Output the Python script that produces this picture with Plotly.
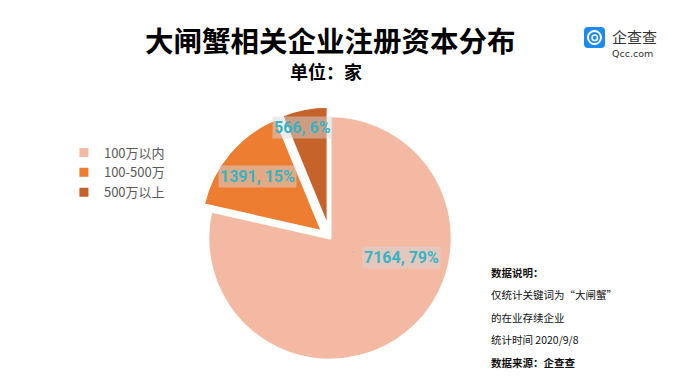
import math
import plotly.graph_objects as go

# ---- data ----
categories = ["100万以内", "100-500万", "500万以上"]
counts = [7164, 1391, 566]
title_text = "大闸蟹相关企业注册资本分布"
subtitle_text = "单位：家"
notes = ["数据说明：", "仅统计关键词为“大闸蟹”", "的在业存续企业", "统计时间 2020/9/8", "数据来源：企查查"]

# ---- style ----
W, H = 680, 391
colors = ["#F3B9A3", "#ED7D31", "#C5632A"]
pulls = [0, 0.08, 0.08]
dom_x = [0.2912, 0.6794]
dom_y = [0.0537, 0.7289]
label_r = [0.61, 0.70, 0.85]
label_ang_shift = [-36, 0, -3]
label_color = "#35B4C6"
CJK = "Noto Sans CJK SC, sans-serif"
NARROW = "Roboto, DejaVu Sans, sans-serif"


def px2x(v):
    return v / W


def px2y(v):
    return 1 - v / H


fig = go.Figure(go.Pie(
    labels=categories, values=counts, sort=False, direction="clockwise",
    rotation=0, pull=pulls,
    marker=dict(colors=colors, line=dict(color="white", width=3)),
    textinfo="none", hoverinfo="label+value+percent",
    domain=dict(x=dom_x, y=dom_y),
))

# geometry of the pie as plotly lays it out
wpx = (dom_x[1] - dom_x[0]) * W
hpx = (dom_y[1] - dom_y[0]) * H
r = min(wpx, hpx) / (2 + 2 * max(pulls))
cx = (dom_x[0] + dom_x[1]) / 2 * W
cy = (1 - (dom_y[0] + dom_y[1]) / 2) * H  # pixels from top

total = sum(counts)
cum = 0
annotations = []
for i, v in enumerate(counts):
    frac = v / total
    mid = (cum + frac / 2) * 360
    cum += frac
    mrad = math.radians(mid)
    px = cx + pulls[i] * r * math.sin(mrad)
    py = cy - pulls[i] * r * math.cos(mrad)
    lrad = math.radians(mid + label_ang_shift[i])
    lx = px + label_r[i] * r * math.sin(lrad)
    ly = py - label_r[i] * r * math.cos(lrad)
    annotations.append(dict(
        x=px2x(lx), y=px2y(ly), xref="paper", yref="paper",
        xanchor="center", yanchor="middle",
        text=f"{v}, {round(frac * 100)}%",
        showarrow=False, bgcolor="rgba(215,215,215,0.5)", borderpad=1,
        font=dict(family=NARROW, size=16, color=label_color, weight="bold"),
    ))

# titles
annotations.append(dict(x=px2x(330), y=px2y(40), xref="paper", yref="paper", text=title_text,
                        xanchor="center", yanchor="middle", showarrow=False,
                        font=dict(family=CJK, size=28.5, color="#000000", weight="bold")))
annotations.append(dict(x=px2x(326), y=px2y(71), xref="paper", yref="paper", text=subtitle_text,
                        xanchor="center", yanchor="middle", showarrow=False,
                        font=dict(family=CJK, size=18, color="#000000", weight="bold")))

# notes
for j, t in enumerate(notes):
    bold = j in (0, len(notes) - 1)
    annotations.append(dict(x=px2x(489), y=px2y(272 + j * 22.5), xref="paper", yref="paper",
                            text=t, showarrow=False, xanchor="left", yanchor="middle",
                            font=dict(family=CJK, size=10.5, color="#111111",
                                      weight="bold" if bold else "normal")))

# logo text
annotations.append(dict(x=px2x(610), y=px2y(37), xref="paper", yref="paper", text="企查查",
                        showarrow=False, xanchor="left", yanchor="middle",
                        font=dict(family=CJK, size=15, color="#333333")))
annotations.append(dict(x=px2x(610), y=px2y(54), xref="paper", yref="paper", text="Qcc.com",
                        showarrow=False, xanchor="left", yanchor="middle",
                        font=dict(family="DejaVu Sans, sans-serif", size=9.5, color="#333333")))

shapes = [
    dict(type="path", xref="paper", yref="paper",
         path=(f"M {px2x(588)},{px2y(27)} L {px2x(601)},{px2y(27)} "
               f"Q {px2x(605)},{px2y(27)} {px2x(605)},{px2y(31)} L {px2x(605)},{px2y(44)} "
               f"Q {px2x(605)},{px2y(48)} {px2x(601)},{px2y(48)} L {px2x(588)},{px2y(48)} "
               f"Q {px2x(584)},{px2y(48)} {px2x(584)},{px2y(44)} L {px2x(584)},{px2y(31)} "
               f"Q {px2x(584)},{px2y(27)} {px2x(588)},{px2y(27)} Z"),
         fillcolor="#1E8BF0", line=dict(width=0), layer="above"),
    dict(type="circle", xref="paper", yref="paper", x0=px2x(588), x1=px2x(601),
         y0=px2y(44), y1=px2y(31), fillcolor="rgba(0,0,0,0)", line=dict(color="white", width=2),
         layer="above"),
    dict(type="circle", xref="paper", yref="paper", x0=px2x(592), x1=px2x(597.5),
         y0=px2y(40.5), y1=px2y(35), fillcolor="rgba(0,0,0,0)", line=dict(color="white", width=1.5),
         layer="above"),
]

fig.update_layout(
    width=W, height=H, margin=dict(l=0, r=0, t=0, b=0),
    paper_bgcolor="white", plot_bgcolor="white",
    showlegend=True,
    legend=dict(x=0.094, y=px2y(137.5), xanchor="left", yanchor="top",
                font=dict(family=CJK, size=13, color="#595959"), bgcolor="rgba(0,0,0,0)"),
    annotations=annotations, shapes=shapes,
)

fig.write_html("out.html", config={"displayModeBar": False},
               post_script="document.body.style.margin='0';")
